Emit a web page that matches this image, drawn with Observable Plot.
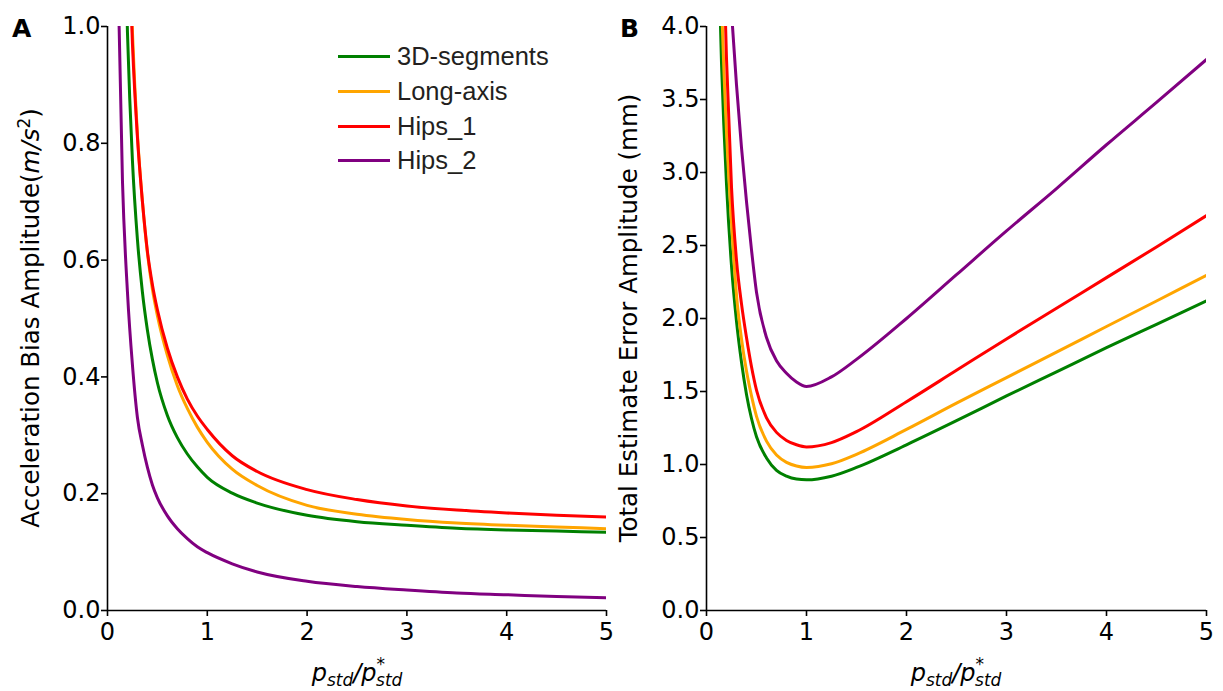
<!DOCTYPE html>
<html>
<head>
<meta charset="utf-8">
<script src="https://cdn.jsdelivr.net/npm/d3@7"></script>
<script src="https://cdn.jsdelivr.net/npm/@observablehq/plot@0.6"></script>
<style>
  body { margin: 0; background: #fff; }
  #wrap { position: relative; width: 1223px; height: 691px; display: flex; overflow: hidden; }
  #wrap svg { overflow: visible; display: block; }
  #legend { position: absolute; left: 338px; top: 39.5px; font-family: "Liberation Sans", Arial, sans-serif; font-size: 25.5px; color: #231f20; }
  .row { display: flex; align-items: center; height: 34.7px; }
  .sw { width: 52px; height: 3px; margin-right: 7px; }
</style>
</head>
<body>
<div id="wrap"><div id="legend"></div></div>
<script>
// ---- data ----
const xs = [0.1, 0.15, 0.2, 0.25, 0.3, 0.35, 0.4, 0.45, 0.5, 0.6, 0.7, 0.8, 0.9, 1, 1.25, 1.5, 2, 2.5, 3, 3.5, 4, 4.5, 5];
const seriesNames = ["3D-segments", "Long-axis", "Hips_1", "Hips_2"];
const seriesColors = ["green", "orange", "red", "purple"];

// Panel A: Acceleration Bias Amplitude (m/s^2)
const biasSeg   = [null, 1.34, 0.99, 0.77, 0.635, 0.545, 0.48, 0.43, 0.39, 0.334, 0.296, 0.268, 0.246, 0.228, 0.201, 0.184, 0.163, 0.152, 0.146, 0.141, 0.138, 0.136, 0.134];
const biasLong  = [null, null, 1.25, 0.99, 0.815, 0.70, 0.612, 0.55, 0.505, 0.437, 0.385, 0.346, 0.314, 0.288, 0.242, 0.214, 0.180, 0.165, 0.156, 0.150, 0.146, 0.143, 0.140];
const biasHips1 = [null, null, 1.22, 0.97, 0.81, 0.70, 0.615, 0.558, 0.515, 0.449, 0.40, 0.362, 0.333, 0.31, 0.265, 0.238, 0.207, 0.190, 0.179, 0.172, 0.167, 0.163, 0.160];
const biasHips2 = [1.13, 0.735, 0.545, 0.42, 0.33, 0.283, 0.245, 0.215, 0.193, 0.162, 0.140, 0.123, 0.109, 0.099, 0.080, 0.066, 0.050, 0.041, 0.035, 0.030, 0.027, 0.024, 0.022];

// Panel B: Total Estimate Error Amplitude (mm)
const errSeg   = [5.0, 3.75, 2.92, 2.36, 1.98, 1.70, 1.48, 1.315, 1.19, 1.045, 0.96, 0.92, 0.90, 0.895, 0.92, 0.98, 1.135, 1.30, 1.47, 1.635, 1.80, 1.96, 2.12];
const errLong  = [5.8, 4.2, 3.28, 2.66, 2.16, 1.86, 1.64, 1.47, 1.33, 1.16, 1.065, 1.015, 0.99, 0.98, 1.005, 1.07, 1.24, 1.42, 1.595, 1.77, 1.945, 2.12, 2.295];
const errHips1 = [null, 5.0, 3.78, 2.90, 2.40, 2.10, 1.87, 1.67, 1.51, 1.32, 1.22, 1.165, 1.135, 1.12, 1.15, 1.225, 1.43, 1.645, 1.86, 2.07, 2.28, 2.49, 2.705];
const errHips2 = [null, null, 4.7, 4.1, 3.6, 3.17, 2.8, 2.47, 2.18, 1.87, 1.71, 1.625, 1.565, 1.534, 1.60, 1.72, 2.0, 2.30, 2.60, 2.89, 3.19, 3.48, 3.774];

const xTicks = [0, 1, 2, 3, 4, 5];
const yTicksA = [0, 0.2, 0.4, 0.6, 0.8, 1.0];
const yTicksB = [0, 0.5, 1.0, 1.5, 2.0, 2.5, 3.0, 3.5, 4.0];

function table(arrays) {
  const rows = [];
  arrays.forEach((arr, i) => {
    arr.forEach((v, j) => { if (v != null) rows.push({x: xs[j], y: v, series: seriesNames[i]}); });
  });
  return rows;
}
const dataA = table([biasSeg, biasLong, biasHips1, biasHips2]);
const dataB = table([errSeg, errLong, errHips1, errHips2]);

const FONT = "DejaVu Sans";

function panel(data, opts) {
  return Plot.plot({
    width: opts.width, height: 691,
    marginLeft: opts.ml, marginRight: opts.mr, marginTop: 26, marginBottom: 81,
    style: {fontFamily: FONT, fontSize: "24px", color: "black", background: "white", overflow: "visible"},
    x: {domain: [0, 5]},
    y: {domain: opts.ydomain},
    color: {domain: seriesNames, range: seriesColors},
    marks: [
      Plot.line(data, {x: "x", y: "y", stroke: "series", z: "series", strokeWidth: 3, curve: "monotone-x", clip: true}),
      Plot.ruleX([0], {stroke: "black", strokeWidth: 1.6}),
      Plot.ruleY([0], {stroke: "black", strokeWidth: 1.6}),
      Plot.axisX(xTicks, {tickSize: 6, tickPadding: 6, strokeWidth: 1.6, fontSize: 24, label: null, tickFormat: d => String(d)}),
      Plot.axisY(opts.yticks, {tickSize: 6, tickPadding: 1, strokeWidth: 1.6, fontSize: 24, label: null, tickFormat: d => d.toFixed(1)})
    ]
  });
}

const wrap = document.getElementById("wrap");
const svgA = panel(dataA, {width: 615, ml: 107, mr: 9, ydomain: [0, 1], yticks: yTicksA});
const svgB = panel(dataB, {width: 608, ml: 91, mr: 17, ydomain: [0, 4], yticks: yTicksB});
wrap.insertBefore(svgA, wrap.firstChild);
wrap.insertBefore(svgB, document.getElementById("legend"));

function xLabel(svg, cx) {
  const t = d3.select(svg).append("text")
    .attr("x", cx).attr("y", 681).attr("text-anchor", "middle")
    .attr("font-family", FONT).attr("font-size", 24).attr("font-style", "italic").attr("fill", "black");
  t.append("tspan").text("p");
  t.append("tspan").attr("dy", 5).attr("font-size", 17).text("std");
  t.append("tspan").attr("dy", -5).attr("font-size", 24).text("/p");
  t.append("tspan").attr("dy", -11).attr("font-size", 17).text("*");
  t.append("tspan").attr("dx", -9).attr("dy", 16).attr("font-size", 17).text("std");
}
function letter(svg, x, s) {
  d3.select(svg).append("text").attr("x", x).attr("y", 37).attr("text-anchor", "start")
    .attr("font-family", FONT).attr("font-size", 25).attr("font-weight", "bold").attr("fill", "black").text(s);
}

// Panel A labels
xLabel(svgA, 357);
letter(svgA, 12, "A");
{
  const t = d3.select(svgA).append("text")
    .attr("transform", "translate(39,318) rotate(-90)").attr("text-anchor", "middle")
    .attr("font-family", FONT).attr("font-size", 24.5).attr("fill", "black");
  t.append("tspan").text("Acceleration Bias Amplitude(");
  t.append("tspan").attr("font-style", "italic").text("m/s");
  t.append("tspan").attr("dy", -9).attr("font-size", 17).text("2");
  t.append("tspan").attr("dy", 9).text(")");
}
// Panel B labels
xLabel(svgB, 341);
letter(svgB, 5, "B");
d3.select(svgB).append("text")
  .attr("transform", "translate(22,318) rotate(-90)").attr("text-anchor", "middle")
  .attr("font-family", FONT).attr("font-size", 24.5).attr("fill", "black")
  .text("Total Estimate Error Amplitude (mm)");

// Legend (HTML overlay)
const legend = d3.select("#legend");
seriesNames.forEach((name, i) => {
  const row = legend.append("div").attr("class", "row");
  row.append("div").attr("class", "sw").style("background", seriesColors[i]);
  row.append("span").text(name);
});
</script>
</body>
</html>
